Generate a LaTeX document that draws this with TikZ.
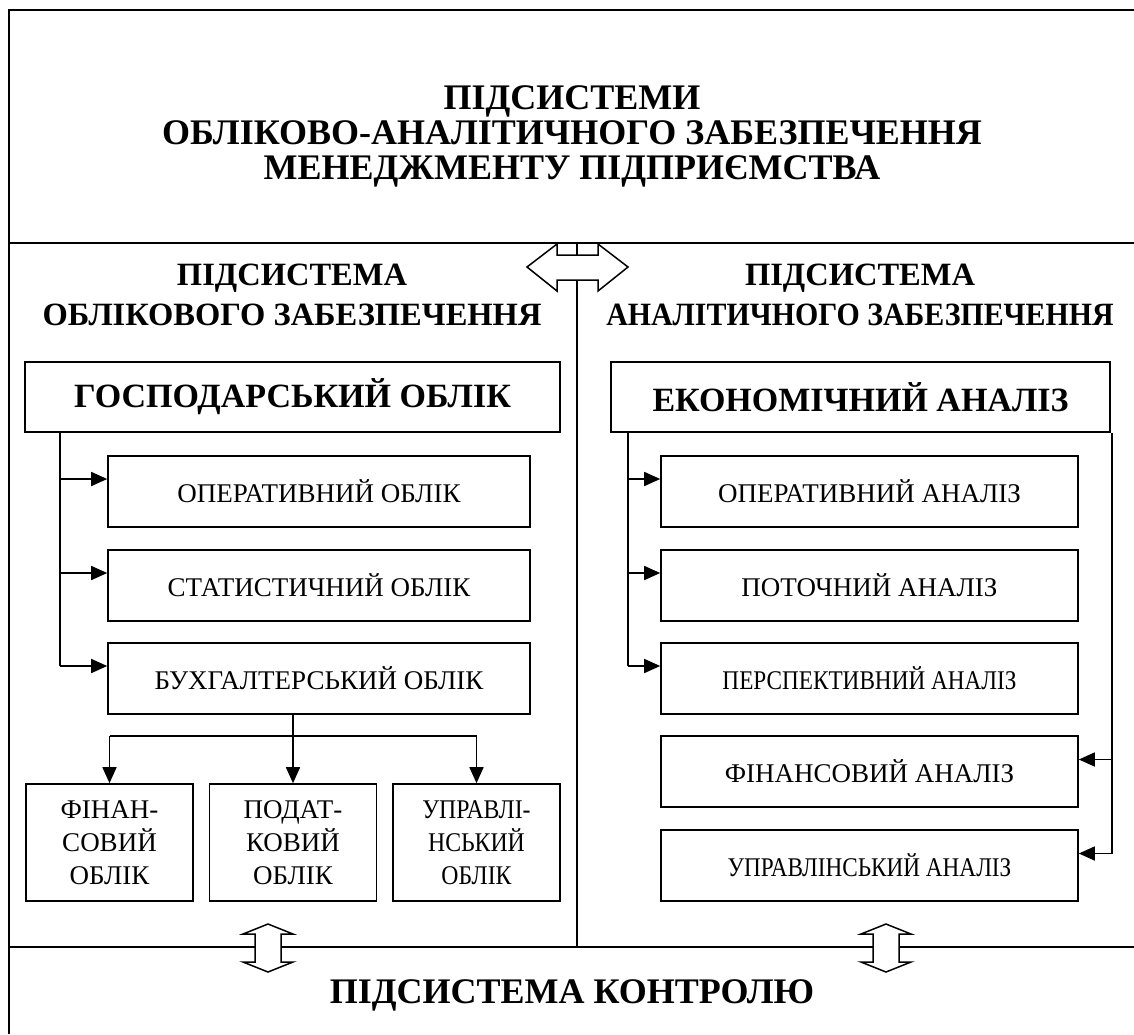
\documentclass[tikz,border=0pt]{standalone}
\usepackage{fontspec}
\setmainfont{Liberation Serif}
\usetikzlibrary{arrows.meta,calc}
\begin{document}
\begin{tikzpicture}[x=1pt,y=-1pt,
  ln/.style={line width=1.6pt},
  frm/.style={line width=2.2pt},
  arr/.style={line width=1.6pt,-{Triangle[length=16pt,width=14pt]}},
  bx/.style={draw,line width=1.6pt,inner sep=0pt,align=center},
  big/.style={bx,minimum height=70pt,font=\fontsize{34}{38}\selectfont\bfseries},
  sub/.style={bx,minimum width=417pt,minimum height=71pt,font=\fontsize{27}{31}\selectfont},
  sml/.style={bx,minimum width=167pt,minimum height=117pt,font=\fontsize{27}{33}\selectfont},
  hd/.style={align=center,inner sep=0pt,font=\fontsize{32.5}{40}\selectfont\bfseries},
  ttl/.style={align=center,inner sep=0pt,font=\fontsize{36}{35}\selectfont\bfseries},
  dbl/.style={draw,fill=white,line width=1.5pt,line join=miter}
]
\useasboundingbox (0,0) rectangle (1134,1034);
% frame lines
\draw[frm] (9,1034) -- (9,10) -- (1134,10);
\coordinate (L1) at (9,243);
\coordinate (R1) at (1134,243);
\coordinate (L2) at (9,947);
\coordinate (R2) at (1134,947);
\coordinate (Dt) at (577,243);
\coordinate (Db) at (577,947);
\draw[frm] (L1) -- (R1);
\draw[frm] (L2) -- (R2);
\draw[ln] (Dt) -- (Db);
% title
\node[ttl] (title) at (572,136) {ПІДСИСТЕМИ\\ОБЛІКОВО-АНАЛІТИЧНОГО ЗАБЕЗПЕЧЕННЯ\\МЕНЕДЖМЕНТУ ПІДПРИЄМСТВА};
% headings
\node[hd] (hL) at (292,295) {ПІДСИСТЕМА\\ОБЛІКОВОГО ЗАБЕЗПЕЧЕННЯ};
\node[hd] (hR) at (860,295) {ПІДСИСТЕМА\\\scalebox{0.92}[1]{АНАЛІТИЧНОГО ЗАБЕЗПЕЧЕННЯ}};
\node[ttl] (ctl) at (572,995) {ПІДСИСТЕМА КОНТРОЛЮ};
% left column
\node[big,minimum width=535pt] (gosp) at (292.5,397) {ГОСПОДАРСЬКИЙ ОБЛІК};
\node[sub,minimum width=422pt] (opo) at (319,491.5) {ОПЕРАТИВНИЙ ОБЛІК};
\node[sub,minimum width=422pt] (sto) at (319,585.5) {СТАТИСТИЧНИЙ ОБЛІК};
\node[sub,minimum width=422pt] (buh) at (319,678.5) {БУХГАЛТЕРСЬКИЙ ОБЛІК};
\node[sml] (fin) at (109.5,842.5) {ФІНАН-\\СОВИЙ\\ОБЛІК};
\node[sml] (pod) at (293,842.5) {ПОДАТ-\\КОВИЙ\\ОБЛІК};
\node[sml] (upr) at (476.5,842.5) {\scalebox{0.88}[1]{УПРАВЛІ-}\\\scalebox{0.88}[1]{НСЬКИЙ}\\\scalebox{0.88}[1]{ОБЛІК}};
\coordinate (brL) at (60,432);
\coordinate (a1) at ($(opo.west)+(0,-12.5)$);
\coordinate (a2) at ($(sto.west)+(0,-12.5)$);
\coordinate (a3) at ($(buh.west)+(0,-12.5)$);
\draw[ln] (gosp.south -| brL) -- (brL |- a3);
\draw[arr] (brL |- a1) -- (a1);
\draw[arr] (brL |- a2) -- (a2);
\draw[arr] (brL |- a3) -- (a3);
\coordinate (hub) at (293,736);
\draw[ln] (buh.south -| hub) -- (hub);
\draw[ln] (fin.north |- hub) -- (upr.north |- hub);
\draw[arr] (fin.north |- hub) -- (fin.north);
\draw[arr] (hub) -- (pod.north);
\draw[arr] (upr.north |- hub) -- (upr.north);
% right column
\node[big,minimum width=499pt] (ekon) at (860.5,397) {ЕКОНОМІЧНИЙ АНАЛІЗ};
\node[sub] (opa) at (869.5,491.5) {ОПЕРАТИВНИЙ АНАЛІЗ};
\node[sub] (pot) at (869.5,585.5) {ПОТОЧНИЙ АНАЛІЗ};
\node[sub] (per) at (869.5,678.5) {\scalebox{0.86}[1]{ПЕРСПЕКТИВНИЙ АНАЛІЗ}};
\node[sub] (fan) at (869.5,771.5) {ФІНАНСОВИЙ АНАЛІЗ};
\node[sub] (uan) at (869.5,865.5) {\scalebox{0.86}[1]{УПРАВЛІНСЬКИЙ АНАЛІЗ}};
\coordinate (brR) at (628,432);
\coordinate (brE) at (1112,432);
\coordinate (b1) at ($(opa.west)+(0,-12.5)$);
\coordinate (b2) at ($(pot.west)+(0,-12.5)$);
\coordinate (b3) at ($(per.west)+(0,-12.5)$);
\coordinate (b4) at ($(fan.east)+(0,-12)$);
\coordinate (b5) at ($(uan.east)+(0,-12)$);
\draw[ln] (ekon.south -| brR) -- (brR |- b3);
\draw[arr] (brR |- b1) -- (b1);
\draw[arr] (brR |- b2) -- (b2);
\draw[arr] (brR |- b3) -- (b3);
\draw[ln] (ekon.south -| brE) -- (brE |- b5);
\draw[arr] (brE |- b4) -- (b4);
\draw[arr] (brE |- b5) -- (b5);
% double arrows
\draw[dbl] (527,267) -- (557,244) -- (557,255) -- (598,255) -- (598,244) -- (628,267) -- (598,291) -- (598,280) -- (557,280) -- (557,291) -- cycle;
\foreach \cx in {268,886}{
\draw[dbl] (\cx,924) -- (\cx-25,934) -- (\cx-13,934) -- (\cx-13,962) -- (\cx-25,962) -- (\cx,972) -- (\cx+25,962) -- (\cx+13,962) -- (\cx+13,934) -- (\cx+25,934) -- cycle;
}
\end{tikzpicture}
\end{document}
